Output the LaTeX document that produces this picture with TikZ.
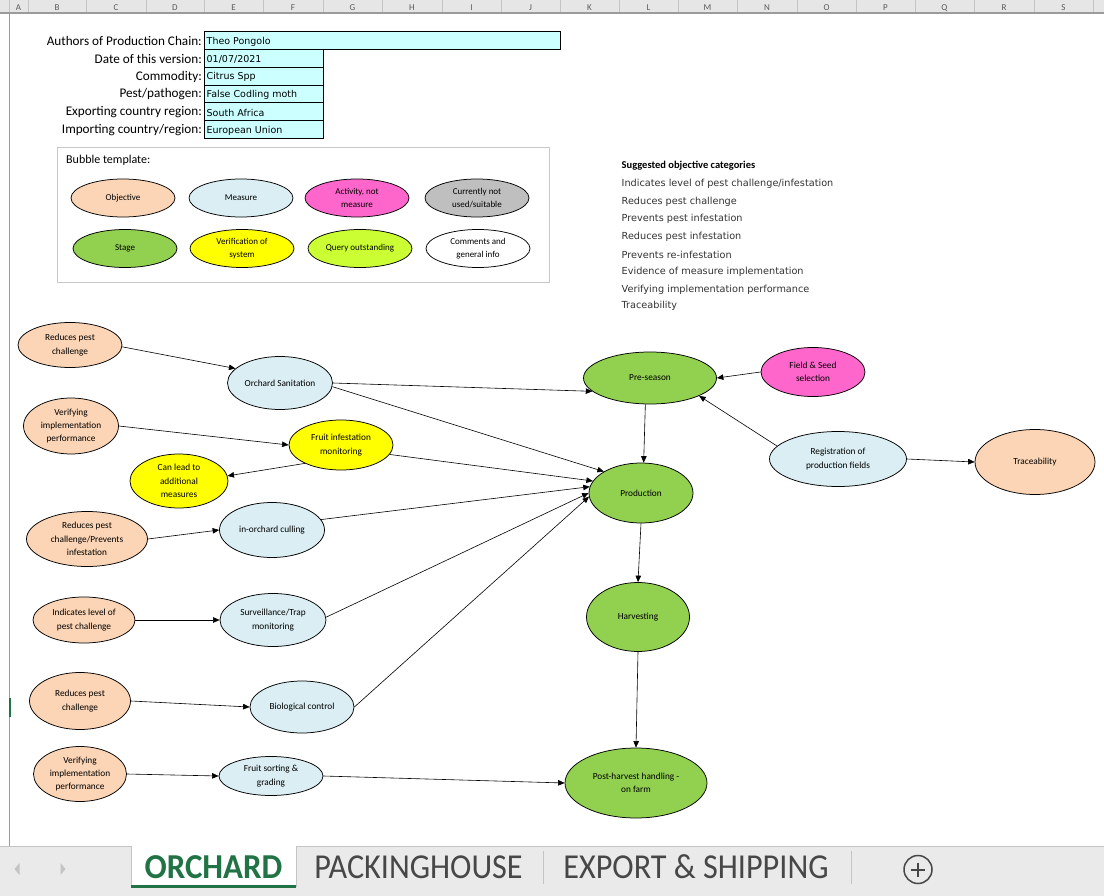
\documentclass[tikz,border=0pt]{standalone}
\usepackage{fontspec}
\setmainfont{Carlito}
\newfontfamily\dvs{DejaVu Sans}
\usepackage{graphicx}
\usetikzlibrary{shapes.geometric,arrows.meta,calc}
\definecolor{objc}{HTML}{FBD5B5}
\definecolor{measc}{HTML}{DAEEF3}
\definecolor{actc}{HTML}{FF66CC}
\definecolor{notc}{HTML}{BFBFBF}
\definecolor{stagec}{HTML}{92D050}
\definecolor{verc}{HTML}{FFFF00}
\definecolor{queryc}{HTML}{CCFF33}
\definecolor{cellc}{HTML}{CCFFFF}
\definecolor{xlgreen}{HTML}{217346}
\definecolor{hdrfill}{HTML}{E6E6E6}
\definecolor{hdrline}{HTML}{9B9B9B}
\definecolor{hdrsep}{HTML}{C4C4C4}
\definecolor{hdrtext}{HTML}{5A5A5A}
\definecolor{boxgray}{HTML}{C8C8C8}
\definecolor{catgray}{HTML}{333333}
\definecolor{tabbar}{HTML}{EAEAEA}
\definecolor{tabtext}{HTML}{474747}
\begin{document}
\begin{tikzpicture}[x=1pt,y=-1pt,
 bub/.style={ellipse, draw=black, line width=0.75pt, inner sep=0pt, align=center, font=\fontsize{9.3}{13.3}\selectfont},
 obj/.style={bub, fill=objc},
 meas/.style={bub, fill=measc},
 act/.style={bub, fill=actc},
 nouse/.style={bub, fill=notc},
 stg/.style={bub, fill=stagec},
 verif/.style={bub, fill=verc},
 qry/.style={bub, fill=queryc},
 cmt/.style={bub, fill=white},
 tpl/.style={minimum width=104pt, minimum height=38pt, font=\fontsize{9}{13.3}\selectfont},
 sz/.style 2 args={minimum width=#1pt, minimum height=#2pt},
 arr/.style={draw=black, line width=0.6pt, -{Triangle[length=6.5pt,width=5.5pt]}},
 lbl/.style={anchor=east, font=\fontsize{13.2}{15}\selectfont, inner sep=0pt},
 cell/.style={draw=black, line width=0.7pt, fill=cellc},
 val/.style={anchor=west, font=\dvs\fontsize{9.5}{11}\selectfont, inner sep=0pt},
 cat/.style={anchor=west, font=\dvs\fontsize{9.7}{11}\selectfont, inner sep=0pt, text=catgray},
 colh/.style={font=\fontsize{9}{9}\selectfont, text=hdrtext, anchor=base, inner sep=0pt},
 tabt/.style={font=\fontsize{35}{35}\selectfont, inner sep=0pt, anchor=base},
]
\useasboundingbox (0,0) rectangle (1104,896);
\fill[white] (0,0) rectangle (1104,896);

% ---- column header strip
\fill[hdrfill] (0,0) rectangle (1104,13);
\foreach \xx in {9,28,86,146,204,263,323,382,442,501,560,619,678,737,797,856,915,974,1034,1093}
  \draw[hdrsep, line width=0.8pt] (\xx,0) -- (\xx,13);
\foreach \cx/\ll in {18.5/A,57/B,116/C,175/D,233.5/E,293/F,352.5/G,412/H,471.5/I,530.5/J,589.5/K,648.5/L,707.5/M,767/N,826.5/O,885.5/P,944.5/Q,1004/R,1063.5/S}
  \node[colh] (col\ll) at (\cx,10.5) {\ll};
\draw[hdrline, line width=1.3pt] (0,13) -- (1104,13);
\draw[hdrline, line width=0.8pt] (9.5,13) -- (9.5,846);
\draw[xlgreen, line width=2pt] (9.5,698) -- (9.5,717);

% ---- form
\draw[cell] (204,31.5) rectangle (560,49.3);
\draw[cell] (204,49.3) rectangle (323,67.1);
\draw[cell] (204,67.1) rectangle (323,84.9);
\draw[cell] (204,84.9) rectangle (323,102.7);
\draw[cell] (204,102.7) rectangle (323,120.5);
\draw[cell] (204,120.5) rectangle (323,138.3);
\node[lbl] (l1) at (202,41) {Authors of Production Chain:};
\node[lbl] (l2) at (202,58.8) {Date of this version:};
\node[lbl] (l3) at (202,76.6) {Commodity:};
\node[lbl] (l4) at (202,94.4) {Pest/pathogen:};
\node[lbl] (l5) at (202,112.2) {Exporting country region:};
\node[lbl] (l6) at (202,130) {Importing country/region:};
\node[val] (v1t) at (206.5,41.6) {Theo Pongolo};
\node[val] (v2t) at (206.5,59.4) {01/07/2021};
\node[val] (v3t) at (206.5,77.2) {Citrus Spp};
\node[val] (v4t) at (206.5,95) {False Codling moth};
\node[val] (v5t) at (206.5,112.8) {South Africa};
\node[val] (v6t) at (206.5,130.6) {European Union};

% ---- bubble template
\draw[boxgray, line width=0.9pt] (57,147) rectangle (549,282);
\node[anchor=west, inner sep=0pt, font=\fontsize{12}{14}\selectfont] (tpltitle) at (66,160) {Bubble template:};
\node[obj, tpl] (t-obj) at (123,198) {Objective};
\node[meas, tpl] (t-meas) at (241,198) {Measure};
\node[act, tpl] (t-act) at (357,198) {Activity, not\\measure};
\node[nouse, tpl] (t-not) at (477,198) {Currently not\\used/suitable};
\node[stg, tpl] (t-stg) at (125,248.5) {Stage};
\node[verif, tpl] (t-ver) at (242,248.5) {Verification of\\system};
\node[qry, tpl] (t-qry) at (360,248.5) {Query outstanding};
\node[cmt, tpl] (t-cmt) at (478,248.5) {Comments and\\general info};

% ---- suggested categories
\node[anchor=west, inner sep=0pt, font=\bfseries\fontsize{10.5}{12}\selectfont, text=black] (cat0) at (621.5,165.7) {Suggested objective categories};
\node[cat] (cat1) at (621.5,183.5) {Indicates level of pest challenge/infestation};
\node[cat] (cat2) at (621.5,201.5) {Reduces pest challenge};
\node[cat] (cat3) at (621.5,219.2) {Prevents pest infestation};
\node[cat] (cat4) at (621.5,236.8) {Reduces pest infestation};
\node[cat] (cat5) at (621.5,254.4) {Prevents re-infestation};
\node[cat] (cat6) at (621.5,272.2) {Evidence of measure implementation};
\node[cat] (cat7) at (621.5,289.4) {Verifying implementation performance};
\node[cat] (cat8) at (621.5,306.2) {Traceability};

% ---- main diagram nodes
\node[obj, sz={104}{45}] (o1) at (70,345) {Reduces pest\\challenge};
\node[meas, sz={105}{53}] (san) at (280,383) {Orchard Sanitation};
\node[obj, sz={95}{56}] (ver1) at (71,426) {Verifying\\implementation\\performance};
\node[verif, sz={104}{50}] (fim) at (341,445) {Fruit infestation\\monitoring};
\node[verif, sz={98}{54}] (can) at (179,481) {Can lead to\\additional\\measures};
\node[obj, sz={121}{55}] (o2) at (87,539) {Reduces pest\\challenge/Prevents\\infestation};
\node[meas, sz={105}{55}] (cull) at (272,530) {in-orchard culling};
\node[obj, sz={102}{46}] (ind) at (84,620) {Indicates level of\\pest challenge};
\node[meas, sz={106}{53}] (surv) at (273,620) {Surveillance/Trap\\monitoring};
\node[obj, sz={101}{57}] (o3) at (80,701) {Reduces pest\\challenge};
\node[meas, sz={104}{52}] (bio) at (302,707) {Biological control};
\node[obj, sz={93}{55}] (ver2) at (80,774) {Verifying\\implementation\\performance};
\node[meas, sz={104}{39}] (sort) at (271,776) {Fruit sorting \&\\grading};

\node[stg, sz={133}{52}] (pre) at (650,378) {Pre-season};
\node[act, sz={104}{49}] (field) at (813,372) {Field \& Seed\\selection};
\node[meas, sz={137}{55}] (reg) at (838,459) {Registration of\\production fields};
\node[obj, sz={120}{65}] (trace) at (1035,462) {Traceability};
\node[stg, sz={104}{60}] (prod) at (641,493) {Production};
\node[stg, sz={103}{69}] (harv) at (638,617) {Harvesting};
\node[stg, sz={142}{70}] (post) at (636,783) {Post-harvest handling -\\on farm};

% ---- connectors
\draw[arr] (o1.358) -- (san.162);
\draw[arr] (san.east) -- (pre.193);
\draw[arr] (san.356) -- (prod.150);
\draw[arr] (ver1.east) -- (fim.west);
\draw[arr] (fim.207) -- (can.6);
\draw[arr] (fim.349) -- (prod.166);
\draw[arr] (o2.east) -- (cull.west);
\draw[arr] (cull.12) -- (prod.173);
\draw[arr] (ind.east) -- (surv.west);
\draw[arr] (surv.3) -- (prod.180);
\draw[arr] (o3.east) -- (bio.west);
\draw[arr] (bio.east) -- (prod.184);
\draw[arr] (ver2.east) -- (sort.west);
\draw[arr] (sort.east) -- (post.west);
\draw[arr] (field.west) -- (pre.east);
\draw[arr] (reg.168) -- (pre.340);
\draw[arr] (reg.east) -- (trace.west);
\draw[arr] (pre.260) -- (prod.85);
\draw[arr] (prod.south) -- (harv.north);
\draw[arr] (harv.south) -- (post.north);

% ---- sheet tab bar
\fill[tabbar] (0,846) rectangle (1104,896);
\draw[hdrsep, line width=0.8pt] (0,846) -- (1104,846);
\fill[white] (131,846) rectangle (296,887);
\draw[hdrsep, line width=0.6pt] (131,846) -- (131,887) (296,846) -- (296,887);
\draw[xlgreen, line width=2.4pt] (131,886.5) -- (296,886.5);
\fill[hdrsep] (19.5,863) -- (14.5,869) -- (19.5,875) -- cycle;
\fill[hdrsep] (60.5,863) -- (65.5,869) -- (60.5,875) -- cycle;
\node[tabt, text=xlgreen] (tab1) at (213.5,878.5) {\bfseries\scalebox{0.94}[1]{ORCHARD}};
\node[tabt, text=tabtext] (tab2) at (418.5,878.5) {\scalebox{0.92}[1]{PACKINGHOUSE}};
\node[tabt, text=tabtext] (tab3) at (696,878.5) {\scalebox{0.92}[1]{EXPORT \& SHIPPING}};
\draw[hdrsep, line width=0.8pt] (543,851) -- (543,884) (851,851) -- (851,884);
\node[circle, draw=tabtext, line width=1.5pt, minimum size=28pt, inner sep=0pt] (plus) at (918,869.5) {};
\draw[tabtext, line width=2pt] ($(plus)+(-7,0)$) -- ($(plus)+(7,0)$) ($(plus)+(0,-7)$) -- ($(plus)+(0,7)$);
\end{tikzpicture}
\end{document}
